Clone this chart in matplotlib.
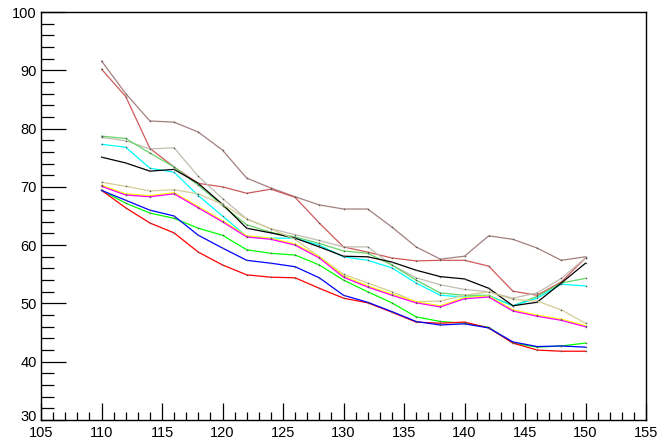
import matplotlib
matplotlib.use("Agg")
import matplotlib.pyplot as plt
from matplotlib.ticker import MultipleLocator, FuncFormatter

plt.rcParams['font.family'] = ['Liberation Sans', 'DejaVu Sans']

# x positions of the points
xs = [110, 112, 114, 116, 118, 120, 122, 124, 126, 128, 130,
      132, 134, 136, 138, 140, 142, 144, 146, 148, 150]

# curves
rosy = [91.6, 86.0, 81.3, 81.1, 79.4, 76.3, 71.5, 69.8, 68.3, 66.9, 66.2,
        66.2, 63.1, 59.7, 57.6, 58.1, 61.6, 61.0, 59.5, 57.4, 58.0]
indianred = [90.2, 85.5, 76.6, 73.4, 70.6, 70.0, 68.9, 69.6, 68.2, 63.8, 59.7,
             58.8, 57.8, 57.3, 57.4, 57.4, 56.4, 52.1, 51.4, 53.7, 57.8]
grey = [78.5, 77.9, 76.5, 76.7, 71.8, 68.0, 64.5, 62.8, 61.8, 60.8, 59.7,
        59.7, 56.6, 54.4, 53.2, 52.4, 52.0, 50.9, 51.8, 54.3, 57.8]
lightgreen = [78.7, 78.3, 75.8, 73.4, 70.3, 66.8, 63.5, 62.2, 61.4, 60.3, 59.0,
              58.6, 56.6, 54.0, 51.8, 51.4, 51.4, 49.6, 51.2, 53.5, 54.3]
cyan = [77.3, 76.8, 73.2, 72.5, 68.5, 65.0, 61.5, 61.2, 61.2, 60.0, 58.0,
        57.4, 56.1, 53.5, 51.4, 51.1, 51.3, 49.6, 50.9, 53.3, 53.0]
black = [75.1, 74.1, 72.7, 73.0, 70.6, 67.0, 62.9, 62.1, 61.2, 59.7, 58.1,
         58.0, 57.1, 55.7, 54.6, 54.2, 52.6, 49.6, 50.2, 53.5, 56.9]
khaki = [70.8, 70.1, 69.3, 69.5, 68.8, 67.0, 64.5, 62.8, 61.0, 58.0, 55.0,
         53.5, 52.0, 50.3, 50.4, 51.4, 52.0, 50.7, 50.4, 48.9, 46.6]
yellow = [70.3, 68.8, 68.5, 69.0, 66.6, 64.2, 61.6, 61.2, 60.2, 58.0, 54.7,
          53.0, 51.6, 50.3, 49.6, 51.0, 51.3, 48.9, 48.0, 47.3, 46.2]
magenta = [70.1, 68.6, 68.3, 68.8, 66.4, 64.0, 61.4, 61.0, 60.0, 57.8, 54.5,
           52.8, 51.4, 50.1, 49.4, 50.8, 51.1, 48.7, 47.8, 47.1, 46.0]
green = [69.4, 67.2, 65.5, 64.6, 62.9, 61.7, 59.2, 58.6, 58.3, 56.6, 54.0,
         52.0, 50.1, 47.7, 46.9, 46.6, 45.9, 43.2, 42.5, 42.7, 43.2]
blue = [69.4, 67.7, 66.0, 65.0, 61.7, 59.5, 57.4, 56.9, 56.3, 54.4, 51.4,
        50.2, 48.6, 46.9, 46.3, 46.5, 45.8, 43.4, 42.6, 42.7, 42.5]
red = [69.4, 66.4, 63.8, 62.1, 58.8, 56.6, 54.9, 54.5, 54.4, 52.6, 50.9,
       50.1, 48.5, 46.8, 46.6, 46.8, 45.8, 43.2, 42.0, 41.8, 41.8]

series = [
    (rosy, "#a47f7f"),
    (indianred, "#d05a5a"),
    (grey, "#c2bcb2"),
    (lightgreen, "#66d466"),
    (cyan, "#00ffff"),
    (black, "#000000"),
    (khaki, "#d3cd95"),
    (yellow, "#ffff00"),
    (magenta, "#ff00ff"),
    (green, "#00ff00"),
    (red, "#ff0000"),
    (blue, "#0000ff"),
]

fig = plt.figure(figsize=(6.6, 4.45), dpi=100)
ax = fig.add_axes([41 / 660, 25 / 445, 605 / 660, 408 / 445])

for ys, col in series:
    ax.plot(xs, ys, color=col, lw=0.9, marker='s', ms=0.7,
            mfc='#555555', mec='#555555', mew=0.3)

ax.set_xlim(105, 155)
ax.set_ylim(30, 100)
ax.xaxis.set_major_locator(MultipleLocator(5))
ax.xaxis.set_minor_locator(MultipleLocator(1))
ax.yaxis.set_major_locator(MultipleLocator(10))
ax.yaxis.set_minor_locator(MultipleLocator(2))
# lowest y label is drawn by hand, a bit higher, so it clears "105"
ax.yaxis.set_major_formatter(FuncFormatter(lambda v, p: "" if v <= 30 else "%d" % v))
ax.annotate("30", xy=(0, 30), xycoords=("axes fraction", "data"),
            xytext=(-3.2, 2.5), textcoords="offset points",
            ha="right", va="center", fontsize=10.5)

ax.tick_params(axis='both', which='both', direction='in', top=False, right=False,
               labelsize=10.5, width=0.9, color='black')
ax.tick_params(axis='x', which='major', length=12, pad=4)
ax.tick_params(axis='x', which='minor', length=6)
ax.tick_params(axis='y', which='major', length=18, pad=3)
ax.tick_params(axis='y', which='minor', length=9)
for s in ax.spines.values():
    s.set_linewidth(1.0)

fig.savefig("out.png", dpi=100)
